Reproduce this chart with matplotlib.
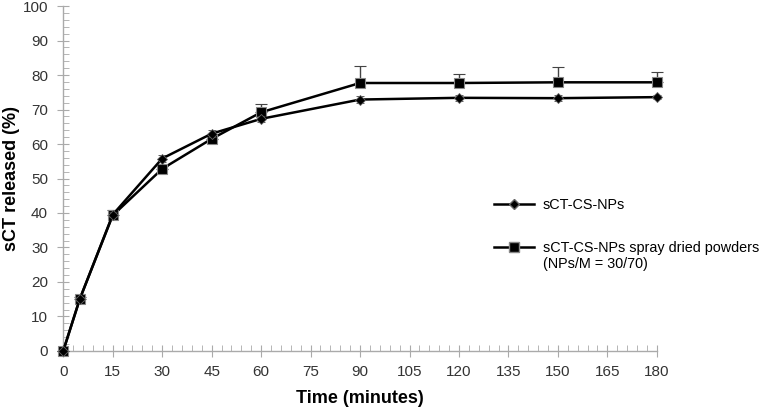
import matplotlib.pyplot as plt
from matplotlib.lines import Line2D
from matplotlib.ticker import MultipleLocator

plt.rcParams['font.family'] = ['Liberation Sans', 'DejaVu Sans']

# release data
time = [0, 5, 15, 30, 45, 60, 90, 120, 150, 180]
np_release = [0, 15.0, 39.5, 55.8, 63.0, 67.3, 72.9, 73.4, 73.3, 73.6]
np_err = [0, 0.5, 0.8, 1.0, 1.0, 0.8, 0.9, 0.8, 0.9, 0.5]
sd_release = [0, 15.0, 39.3, 52.8, 61.5, 69.2, 77.7, 77.7, 77.9, 77.9]
sd_err = [0, 0.5, 1.5, 0.8, 1.0, 2.5, 4.8, 2.5, 4.3, 3.1]

label_np = 'sCT-CS-NPs'
label_sd = 'sCT-CS-NPs spray dried powders'
label_sd2 = '(NPs/M = 30/70)'

fig = plt.figure(figsize=(7.62, 4.08), dpi=100)
ax = fig.add_axes([0.083, 0.14, 0.779, 0.845])

ax.errorbar(time, sd_release, yerr=[[0] * len(sd_err), sd_err], color='black', lw=1.8,
            marker='s', ms=7.5, mfc='black', mec='#888888', mew=0.8,
            ecolor='#444444', elinewidth=1.0, capsize=4, capthick=1.0, zorder=3)
ax.errorbar(time, np_release, yerr=np_err, color='black', lw=1.8,
            marker='D', ms=5, mfc='black', mec='#666666', mew=0.6,
            ecolor='#444444', elinewidth=0.8, capsize=3, capthick=0.8, zorder=4)

ax.set_xlim(0, 180)
ax.set_ylim(0, 100)
ax.xaxis.set_major_locator(MultipleLocator(15))
ax.xaxis.set_minor_locator(MultipleLocator(3))
ax.yaxis.set_major_locator(MultipleLocator(10))
ax.yaxis.set_minor_locator(MultipleLocator(2))

for s in ['top', 'right']:
    ax.spines[s].set_visible(False)
for s in ['left', 'bottom']:
    ax.spines[s].set_color('#aaaaaa')
    ax.spines[s].set_linewidth(1.0)
ax.tick_params(which='major', direction='inout', length=8, width=0.8, color='#aaaaaa',
               labelsize=11, labelcolor='#333333')
ax.tick_params(axis='y', which='major', pad=7)
ax.tick_params(axis='x', which='major', pad=6)
ax.tick_params(which='minor', direction='in', length=4, width=0.6, color='#aaaaaa')
for art in ax.get_children():
    art.set_clip_on(False)

ax.set_xlabel('Time (minutes)', fontsize=13, fontweight='bold', labelpad=8)
ax.set_ylabel('sCT released (%)', fontsize=13, fontweight='bold', va='center', ha='center')
ax.yaxis.set_label_coords(-0.088, 0.5)

h_np = Line2D([], [], color='black', lw=1.8, marker='D', ms=5, mfc='black', mec='#666666')
h_sd = Line2D([], [], color='black', lw=1.8, marker='s', ms=7, mfc='black', mec='#888888')
h_blank = Line2D([], [], linestyle='none')

leg1 = ax.legend([h_np], [label_np], loc='upper left', bbox_to_anchor=(0.725, 0.443),
                 frameon=False, fontsize=10.4, handlelength=2.8, handletextpad=0.6,
                 borderpad=0, borderaxespad=0)
ax.add_artist(leg1)
ax.legend([h_sd, h_blank], [label_sd, label_sd2], loc='upper left',
          bbox_to_anchor=(0.725, 0.318), frameon=False, fontsize=10.4,
          handlelength=2.8, handletextpad=0.6, labelspacing=0.15,
          borderpad=0, borderaxespad=0)

fig.savefig('out.png', dpi=100)
